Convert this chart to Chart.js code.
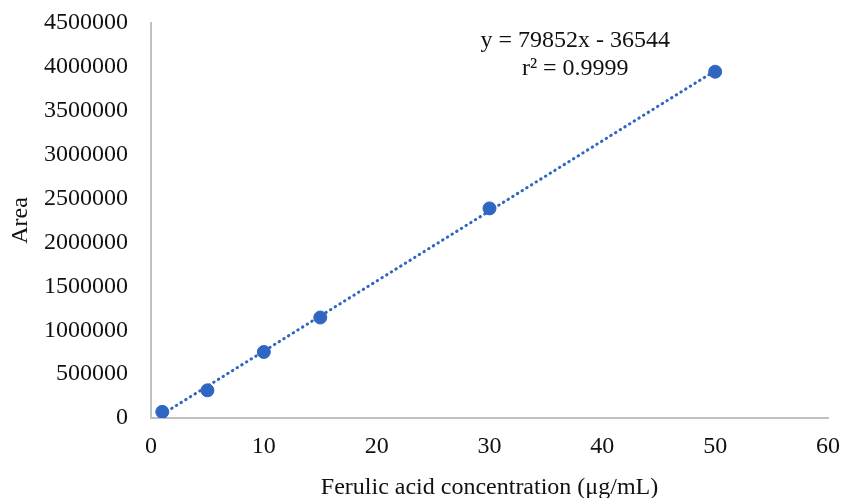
<!DOCTYPE html>
<html>
<head>
<meta charset="utf-8">
<script src="https://cdn.jsdelivr.net/npm/chart.js@4/dist/chart.umd.min.js"></script>
<style>
	html, body { margin: 0; padding: 0; background: #fff; }
	#wrap { width: 843px; height: 498px; }
</style>
</head>
<body>
<div id="wrap"><canvas id="chart"></canvas></div>
<script>
// measured standards
const concentrations = [1, 5, 10, 15, 30, 50];
const areas = [70000, 315000, 752000, 1145000, 2388000, 3945000];

// linear trendline as drawn (from first to last standard)
const trendX = [1, 50];
const trendY = [43000, 3956000];

const equationLines = ['y = 79852x - 36544', 'r² = 0.9999'];
const xTitle = 'Ferulic acid concentration (μg/mL)';
const yTitle = 'Area';

const blue = '#2f66c1';
const axisGray = '#c0c0c0';
const serif = "'Liberation Serif', 'Times New Roman', serif";

const equationLabel = {
	id: 'equationLabel',
	afterDatasetsDraw(chart) {
		const { ctx, scales } = chart;
		const x = scales.x.getPixelForValue(37.6);
		ctx.save();
		ctx.fillStyle = '#111';
		ctx.font = '24px ' + serif;
		ctx.textAlign = 'center';
		ctx.textBaseline = 'middle';
		ctx.fillText(equationLines[0], x, scales.y.getPixelForValue(4300000));
		ctx.fillText(equationLines[1], x, scales.y.getPixelForValue(3975000));
		ctx.restore();
	},
};

const data = {
	datasets: [
		{
			label: 'trend',
			type: 'line',
			data: trendX.map((x, i) => ({ x, y: trendY[i] })),
			borderColor: blue,
			borderWidth: 3,
			borderDash: [0.5, 5],
			borderCapStyle: 'round',
			pointRadius: 0,
			fill: false,
			order: 2,
		},
		{
			label: 'Area',
			data: concentrations.map((x, i) => ({ x, y: areas[i] })),
			backgroundColor: blue,
			borderColor: blue,
			pointRadius: 6.5,
			order: 1,
		},
	],
};

const options = {
	responsive: true,
	maintainAspectRatio: false,
	animation: false,
	layout: {
		padding: { top: 23, right: 15, bottom: 0, left: 0 },
	},
	plugins: {
		legend: { display: false },
		tooltip: { enabled: false },
	},
	scales: {
		x: {
			type: 'linear',
			min: 0,
			max: 60,
			ticks: {
				stepSize: 10,
				padding: 14,
				color: '#111',
				font: { family: serif, size: 24 },
			},
			grid: { display: true, color: 'rgba(0,0,0,0)', drawTicks: false, tickLength: 0 },
			border: { display: true, color: axisGray, width: 2 },
			title: {
				display: true,
				text: xTitle,
				color: '#111',
				font: { family: serif, size: 24, lineHeight: 1 },
				padding: { top: 0, bottom: -2 },
			},
			afterFit(scale) {
				scale.height = 80;
				scale.paddingLeft = 0;
				scale.paddingRight = 0;
			},
		},
		y: {
			type: 'linear',
			min: 0,
			max: 4500000,
			ticks: {
				stepSize: 500000,
				padding: 23,
				color: '#111',
				font: { family: serif, size: 24 },
				callback: (v) => String(v),
			},
			grid: { display: true, color: 'rgba(0,0,0,0)', drawTicks: false, tickLength: 0 },
			border: { display: true, color: axisGray, width: 2 },
			title: {
				display: true,
				text: yTitle,
				color: '#111',
				font: { family: serif, size: 24 },
				padding: { top: 6, bottom: 0 },
			},
			afterFit(scale) {
				scale.width = 151;
				scale.paddingTop = 0;
				scale.paddingBottom = 0;
			},
		},
	},
};

new Chart(document.getElementById('chart'), {
	type: 'scatter',
	data,
	options,
	plugins: [equationLabel],
});
</script>
</body>
</html>
